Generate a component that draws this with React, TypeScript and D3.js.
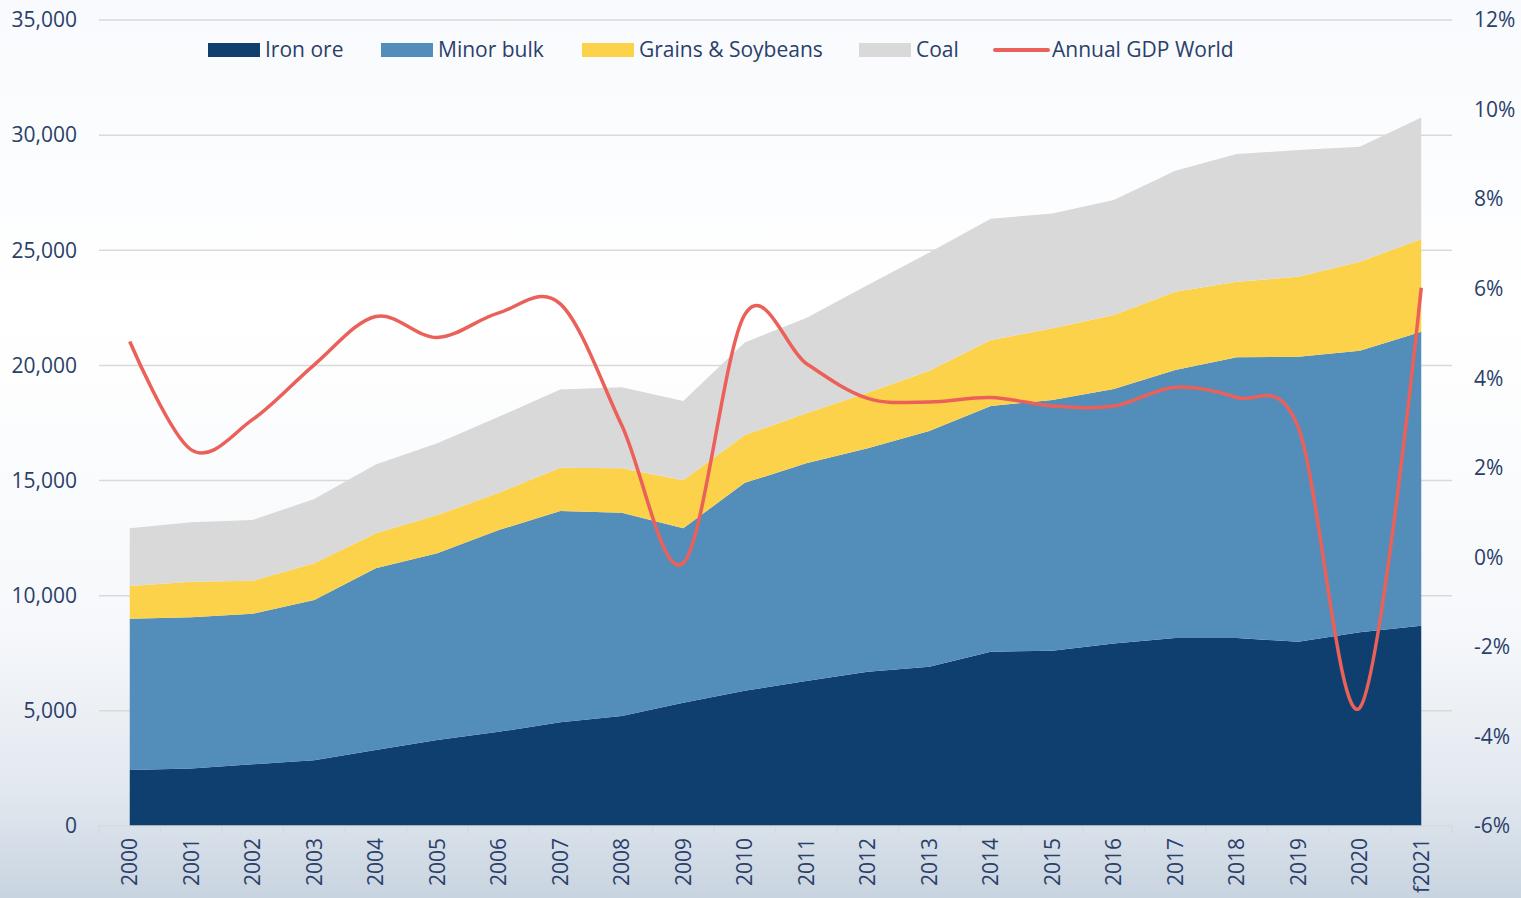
import React from 'react';
import * as d3 from 'd3';

const years = ['2000', '2001', '2002', '2003', '2004', '2005', '2006', '2007', '2008', '2009', '2010',
  '2011', '2012', '2013', '2014', '2015', '2016', '2017', '2018', '2019', '2020', 'f2021'];
const ironOre = [2430, 2500, 2680, 2850, 3300, 3730, 4090, 4500, 4780, 5350, 5870, 6300, 6700, 6920, 7570, 7610, 7930, 8160, 8160, 8000, 8410, 8700];
const minorBulk = [6570, 6560, 6540, 6960, 7890, 8110, 8760, 9180, 8820, 7580, 9030, 9450, 9700, 10230, 10670, 10890, 11050, 11640, 12190, 12380, 12230, 12760];
const grains = [1420, 1550, 1430, 1600, 1520, 1660, 1620, 1880, 1930, 2080, 2080, 2170, 2410, 2620, 2860, 3110, 3210, 3400, 3280, 3470, 3860, 4030];
const coal = [2510, 2580, 2640, 2790, 2990, 3120, 3300, 3400, 3520, 3440, 4020, 4140, 4680, 5130, 5270, 4990, 4990, 5250, 5550, 5500, 5000, 5280];
const gdpWorld = [4.82, 2.4, 3.08, 4.3, 5.38, 4.91, 5.46, 5.66, 2.95, -0.13, 5.42, 4.33, 3.55, 3.47, 3.57, 3.38, 3.38, 3.8, 3.57, 2.9, -3.36, 6.02];
const leftTicks = [0, 5000, 10000, 15000, 20000, 25000, 30000, 35000];
const rightTicks = [-6, -4, -2, 0, 2, 4, 6, 8, 10, 12];

const seriesKeys = ['Iron ore', 'Minor bulk', 'Grains & Soybeans', 'Coal'];
const colors = ['#0e3f6e', '#538ebb', '#fdd24b', '#d9d9d9'];
const lineColor = '#eb6058';
const textColor = '#2a3f6a';
const font = "'Open Sans', 'Noto Sans', sans-serif";

const W = 1521;
const H = 898;
const margin = { top: 20, right: 69, bottom: 72, left: 99 };

export default function App() {
  const x = d3.scaleBand().domain(years).range([margin.left, W - margin.right]);
  const cx = (y: string) => (x(y) as number) + x.bandwidth() / 2;
  const y1 = d3.scaleLinear().domain([0, 35000]).range([H - margin.bottom, margin.top]);
  const y2 = d3.scaleLinear().domain([-6, 12]).range([H - margin.bottom, margin.top]);

  const table = years.map((yr, i) => ({
    year: yr,
    'Iron ore': ironOre[i],
    'Minor bulk': minorBulk[i],
    'Grains & Soybeans': grains[i],
    Coal: coal[i],
  }));
  const stacked = d3.stack<any>().keys(seriesKeys)(table);
  const area = d3
    .area<any>()
    .x((d) => cx(d.data.year))
    .y0((d) => y1(d[0]))
    .y1((d) => y1(d[1]));
  const line = d3
    .line<number>()
    .x((_, i) => cx(years[i]))
    .y((d) => y2(d))
    .curve(d3.curveCardinal.tension(0));

  const fmt = d3.format(',');
  const base = H - margin.bottom;
  const fs = 21;

  const legend = [
    { label: 'Iron ore', x: 208, color: colors[0] },
    { label: 'Minor bulk', x: 381, color: colors[1] },
    { label: 'Grains & Soybeans', x: 582, color: colors[2] },
    { label: 'Coal', x: 859, color: colors[3] },
  ];

  return (
    <svg width={W} height={H} style={{ position: 'absolute', left: 0, top: 0, display: 'block' }} fontFamily={font}>
      <defs>
        <linearGradient id="bg" x1="0" y1="0" x2="0" y2="1">
          <stop offset="0" stopColor="#f8fafd" />
          <stop offset="0.35" stopColor="#ffffff" />
          <stop offset="0.7" stopColor="#f6f8fb" />
          <stop offset="0.88" stopColor="#e2e8ef" />
          <stop offset="1" stopColor="#c8d4e0" />
        </linearGradient>
      </defs>
      <rect width={W} height={H} fill="url(#bg)" />

      {leftTicks.slice(1).map((t) => (
        <line key={t} x1={margin.left} x2={W - margin.right} y1={y1(t)} y2={y1(t)} stroke="#d9d9d9" strokeWidth={1.5} />
      ))}

      {stacked.map((s, i) => (
        <path key={s.key} d={area(s) as string} fill={colors[i]} />
      ))}

      <line x1={margin.left} x2={W - margin.right} y1={base} y2={base} stroke="#d9d9d9" strokeWidth={1.5} />
      {years.map((yr) => (
        <line key={yr} x1={x(yr)} x2={x(yr)} y1={base} y2={base + 7} stroke="#d9d9d9" strokeWidth={1.5} />
      ))}
      <line x1={W - margin.right} x2={W - margin.right} y1={base} y2={base + 7} stroke="#d9d9d9" strokeWidth={1.5} />

      <path d={line(gdpWorld) as string} fill="none" stroke={lineColor} strokeWidth={3.5} />

      {leftTicks.map((t) => (
        <text key={t} x={77} y={y1(t)} dy="0.35em" textAnchor="end" fontSize={fs} fill={textColor}>
          {fmt(t)}
        </text>
      ))}
      {rightTicks.map((t) => (
        <text key={t} x={1474} y={y2(t)} dy="0.35em" textAnchor="start" fontSize={fs} fill={textColor}>
          {t}%
        </text>
      ))}
      {years.map((yr) => (
        <text
          key={yr}
          transform={`translate(${cx(yr)},${base + 12}) rotate(-90)`}
          dy="0.35em"
          textAnchor="end"
          fontSize={fs}
          fill={textColor}
        >
          {yr}
        </text>
      ))}

      {legend.map((l) => (
        <g key={l.label}>
          <rect x={l.x} y={43} width={52} height={14} fill={l.color} />
          <text x={l.x + 57} y={50} dy="0.35em" fontSize={fs} fill={textColor}>
            {l.label}
          </text>
        </g>
      ))}
      <line x1={995} x2={1048} y1={50} y2={50} stroke={lineColor} strokeWidth={4} strokeLinecap="round" />
      <text x={1052} y={50} dy="0.35em" fontSize={fs} fill={textColor}>
        Annual GDP World
      </text>
    </svg>
  );
}
